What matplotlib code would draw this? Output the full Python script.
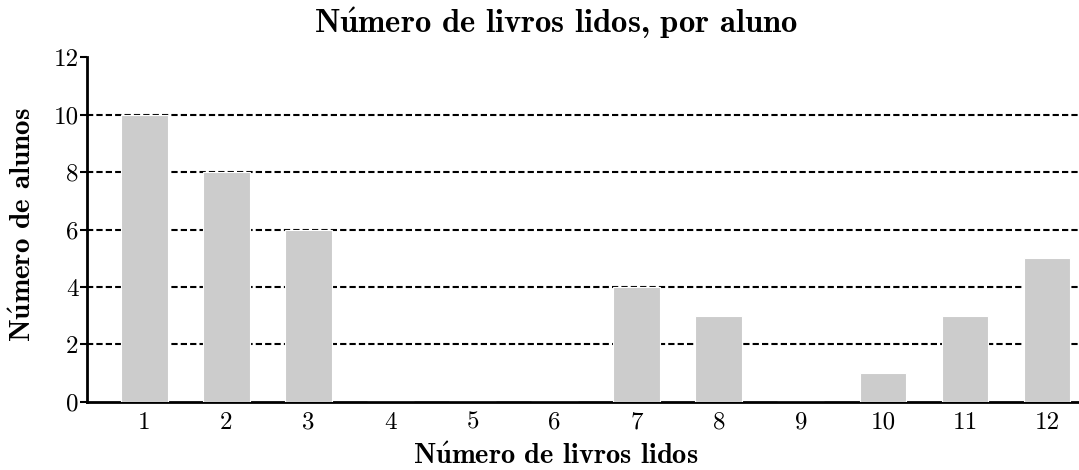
import numpy as np
import matplotlib.pyplot as plt

# Data
livros = [1, 2, 3, 4, 5, 6, 7, 8, 9, 10, 11, 12]
alunos = [10, 8, 6, 0, 0, 0, 4, 3, 0, 1, 3, 5]
yticks = [0, 2, 4, 6, 8, 10, 12]

plt.rcParams['font.family'] = ['cmr10', 'DejaVu Serif']
plt.rcParams['mathtext.fontset'] = 'cm'
plt.rcParams['axes.unicode_minus'] = False

fig = plt.figure(figsize=(10.79, 4.70), dpi=100)
ax = fig.add_axes([0.0806, 0.1447, 0.9194, 0.734])

ax.bar(livros, alunos, width=0.57, color='#cccccc', edgecolor='white', linewidth=0.8, zorder=3)

ax.set_xlim(0.3, 12.39)
ax.set_ylim(0, 12)
ax.set_xticks(livros)
ax.set_yticks(yticks)
ax.tick_params(axis='x', length=0, labelsize=18, pad=7)
ax.tick_params(axis='y', length=5, width=1.5, labelsize=18, pad=1)

# dashed grid lines (except at 0 and 12)
for y in yticks[1:-1]:
    ax.axhline(y, color='black', linestyle=(0, (3, 1.5)), linewidth=1.5, zorder=1)

for s in ['top', 'right']:
    ax.spines[s].set_visible(False)
ax.spines['left'].set_linewidth(2)
ax.spines['bottom'].set_linewidth(2)

bold = ['cmb10', 'DejaVu Serif']
fig.text(0.515, 0.93, r'N$\mathbf{\acute{u}}$mero de livros lidos, por aluno',
         ha='center', va='baseline', family=bold, fontsize=23.5)
fig.text(0.515, 0.013, r'N$\mathbf{\acute{u}}$mero de livros lidos',
         ha='center', va='baseline', family=bold, fontsize=20.5)
fig.text(0.022, 0.523, r'N$\mathbf{\acute{u}}$mero de alunos', rotation=90,
         ha='center', va='center', family=bold, fontsize=21)

fig.savefig('out.png', dpi=100)
